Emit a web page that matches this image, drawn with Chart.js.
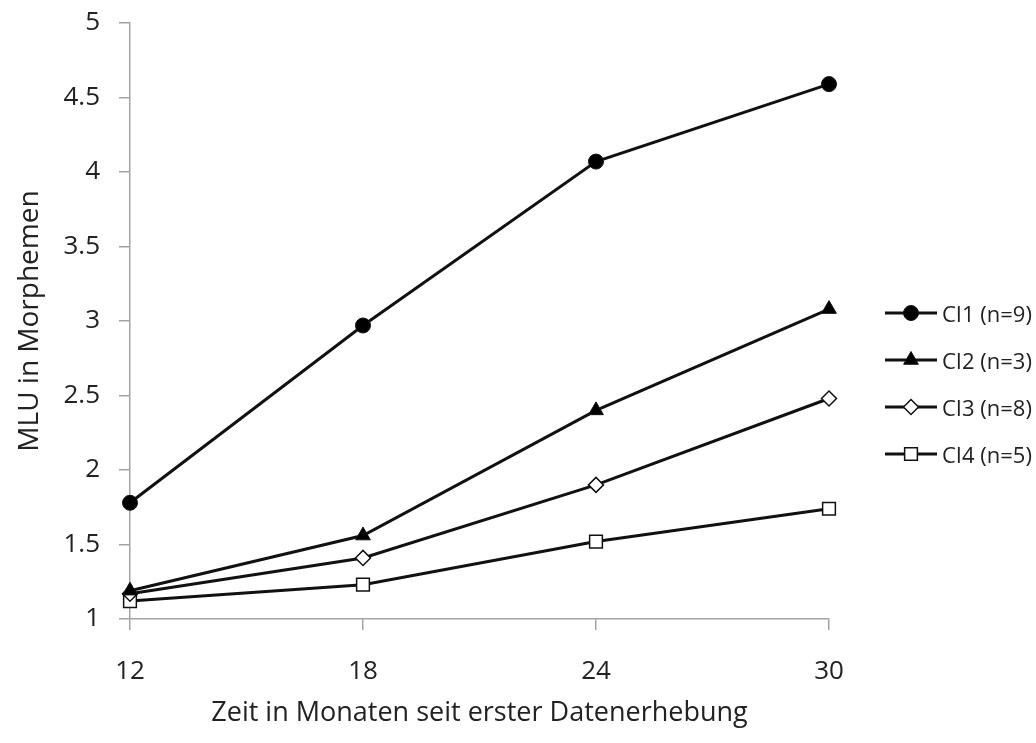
<!DOCTYPE html>
<html>
<head>
<meta charset="utf-8">
<script src="https://cdn.jsdelivr.net/npm/chart.js@4.4.1/dist/chart.umd.min.js"></script>
<style>
  html, body { margin: 0; padding: 0; background: #fff; }
  #wrap { position: relative; width: 1036px; height: 743px; }
  #legend { position: absolute; left: 883px; top: 289px; font-family: "Open Sans", sans-serif; font-size: 22px; color: #222; }
  .item { display: flex; align-items: center; height: 47px; }
  .item canvas { margin-right: 3px; }
</style>
</head>
<body>
<div id="wrap">
  <canvas id="c" width="1036" height="743"></canvas>
  <div id="legend"></div>
</div>
<script>
const categories = ['12', '18', '24', '30'];
const seriesNames = ['CI1 (n=9)', 'CI2 (n=3)', 'CI3 (n=8)', 'CI4 (n=5)'];
const ci1 = [1.78, 2.97, 4.07, 4.59];
const ci2 = [1.19, 1.56, 2.40, 3.08];
const ci3 = [1.17, 1.41, 1.90, 2.48];
const ci4 = [1.12, 1.23, 1.52, 1.74];
const yMin = 1, yMax = 5, yStep = 0.5;
const xTitle = 'Zeit in Monaten seit erster Datenerhebung';
const yTitle = 'MLU in Morphemen';

const styles = [
  { pointStyle: 'circle', radius: 7.5, fill: '#000' },
  { pointStyle: 'triangle', radius: 8.5, fill: '#000' },
  { pointStyle: 'rectRot', radius: 7.5, fill: '#fff' },
  { pointStyle: 'rect', radius: 9, fill: '#fff' }
];
const seriesData = [ci1, ci2, ci3, ci4];
const axisColor = '#a3a3a3';
const font = 'Open Sans';

const datasets = seriesData.map((d, i) => ({
  label: seriesNames[i],
  data: d,
  borderColor: '#111',
  borderWidth: 3,
  tension: 0,
  pointStyle: styles[i].pointStyle,
  pointRadius: styles[i].radius,
  pointBackgroundColor: styles[i].fill,
  pointBorderColor: '#111',
  pointBorderWidth: styles[i].fill === '#fff' ? 1.5 : 1,
  fill: false
}));

new Chart(document.getElementById('c'), {
  type: 'line',
  data: { labels: categories, datasets },
  options: {
    responsive: false,
    devicePixelRatio: 1,
    animation: false,
    layout: { padding: { top: 23, right: 207, left: 0, bottom: 0 } },
    plugins: { legend: { display: false }, tooltip: { enabled: false } },
    scales: {
      x: {
        type: 'category',
        offset: false,
        afterFit: s => { s.height = 124; },
        grid: { display: true, drawOnChartArea: false, drawTicks: true, tickLength: 11, color: axisColor, lineWidth: 1.5 },
        border: { display: true, color: axisColor, width: 1.5 },
        ticks: { color: '#222', padding: 26, font: { family: font, size: 26 } },
        title: { display: true, text: xTitle, color: '#222', font: { family: font, size: 27 }, padding: { top: 0, bottom: 13 } }
      },
      y: {
        min: yMin, max: yMax,
        afterFit: s => { s.width = 130; s.paddingTop = 0; s.paddingBottom = 0; },
        grid: { display: true, drawOnChartArea: false, drawTicks: true, tickLength: 11, color: axisColor, lineWidth: 1.5 },
        border: { display: true, color: axisColor, width: 1.5 },
        ticks: { stepSize: yStep, color: '#222', padding: 19, font: { family: font, size: 26 }, callback: v => String(v) },
        title: { display: true, text: yTitle, color: '#222', font: { family: font, size: 28 }, padding: { top: 13, bottom: 0 } }
      }
    }
  }
});

// HTML legend with line + marker swatches
const legend = document.getElementById('legend');
seriesNames.forEach((name, i) => {
  const row = document.createElement('div');
  row.className = 'item';
  const cv = document.createElement('canvas');
  cv.width = 56; cv.height = 24;
  const ctx = cv.getContext('2d');
  ctx.strokeStyle = '#111';
  ctx.lineWidth = 3;
  ctx.beginPath(); ctx.moveTo(2, 12); ctx.lineTo(54, 12); ctx.stroke();
  ctx.fillStyle = styles[i].fill;
  ctx.lineWidth = styles[i].fill === '#fff' ? 1.5 : 1;
  Chart.helpers.drawPoint(ctx, { pointStyle: styles[i].pointStyle, radius: styles[i].radius, rotation: 0, borderWidth: ctx.lineWidth }, 28, 12);
  const span = document.createElement('span');
  span.textContent = name;
  row.appendChild(cv); row.appendChild(span);
  legend.appendChild(row);
});
</script>
</body>
</html>
